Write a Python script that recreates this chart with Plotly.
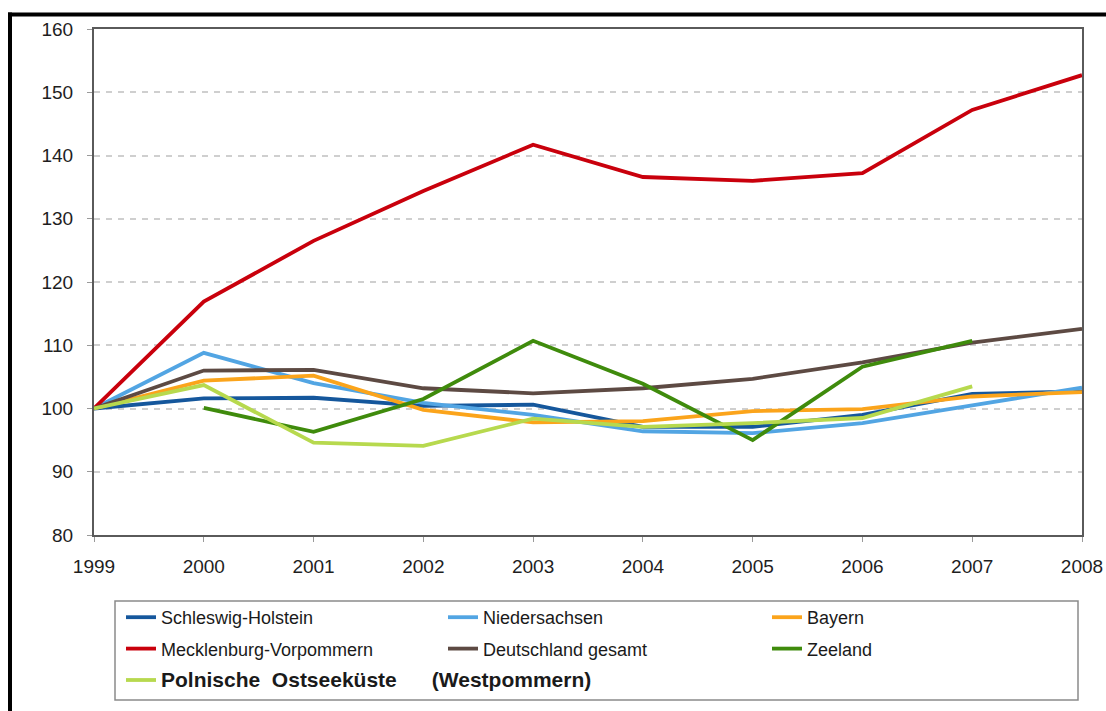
import plotly.graph_objects as go

years = [1999, 2000, 2001, 2002, 2003, 2004, 2005, 2006, 2007, 2008]
schleswig_holstein = [100, 101.6, 101.7, 100.4, 100.6, 97.1, 97.1, 99.0, 102.3, 102.7]
niedersachsen = [100, 108.8, 104.0, 100.9, 99.0, 96.4, 96.1, 97.7, 100.5, 103.3]
bayern = [100, 104.4, 105.2, 99.8, 97.8, 98.0, 99.6, 99.9, 101.9, 102.6]
mecklenburg_vorpommern = [100, 116.9, 126.5, 134.4, 141.7, 136.6, 136.0, 137.2, 147.2, 152.7]
deutschland_gesamt = [100, 106.0, 106.1, 103.2, 102.4, 103.2, 104.7, 107.3, 110.4, 112.6]
zeeland = [None, 100.1, 96.3, 101.5, 110.7, 103.9, 95.0, 106.6, 110.7, None]
polnische_ostseekueste = [100, 103.7, 94.6, 94.1, 98.4, 97.1, 97.7, 98.5, 103.5, None]

y_ticks = [80, 90, 100, 110, 120, 130, 140, 150, 160]

pol_label = ("<span style='font-size:21px'><b>Polnische\u00a0\u00a0Ostseeküste"
             "\u00a0\u00a0\u00a0\u00a0\u00a0\u00a0(Westpommern)</b></span>")

series = [
    ("Schleswig-Holstein", schleswig_holstein, "#15579c", "legend"),
    ("Niedersachsen", niedersachsen, "#52a5e3", "legend2"),
    ("Bayern", bayern, "#fba41b", "legend3"),
    ("Mecklenburg-Vorpommern", mecklenburg_vorpommern, "#c9000c", "legend"),
    ("Deutschland gesamt", deutschland_gesamt, "#5d4a43", "legend2"),
    ("Zeeland", zeeland, "#3f8b0c", "legend3"),
    (pol_label, polnische_ostseekueste, "#b7d94e", "legend"),
]

fig = go.Figure()
for i, (name, vals, color, leg) in enumerate(series):
    fig.add_trace(go.Scatter(
        x=years, y=vals, name=name, mode="lines",
        line=dict(color=color, width=3.8),
        legend=leg, legendgroup="g%d" % i,
        connectgaps=False,
    ))

L, R, T, B = 94, 1082, 29, 535
W, H = 1106, 711


def px(x):
    return (x - L) / (R - L)


def py(y):
    return (B - y) / (B - T)


font_family = "Liberation Sans, Arial, sans-serif"
leg_common = dict(
    font=dict(family=font_family, size=18, color="#1a1a1a"),
    bgcolor="rgba(0,0,0,0)", borderwidth=0,
    xanchor="left", yanchor="top",
    traceorder="grouped", tracegroupgap=5,
    orientation="v", itemwidth=30,
)

fig.update_layout(
    width=W, height=H,
    margin=dict(l=L, r=W - R, t=T, b=H - B, pad=0, autoexpand=False),
    paper_bgcolor="white", plot_bgcolor="white",
    font=dict(family=font_family, size=18, color="#222222"),
    showlegend=True,
    legend=dict(x=px(121), y=py(599), **leg_common),
    legend2=dict(x=px(443), y=py(599), **leg_common),
    legend3=dict(x=px(767), y=py(599), **leg_common),
    xaxis=dict(
        range=[1999, 2008], tickmode="array", tickvals=years,
        ticktext=[str(y) for y in years],
        showgrid=False, zeroline=False,
        showline=True, linecolor="#5a5a5a", linewidth=2, mirror=True,
        ticks="outside", ticklen=5, tickcolor="#9a9a9a", tickwidth=1,
        tickfont=dict(family=font_family, size=19, color="#1e1e1e"),
        ticklabelstandoff=8,
    ),
    yaxis=dict(
        range=[80, 160], tickmode="array", tickvals=y_ticks,
        showgrid=True, gridcolor="#cfcfcf", gridwidth=1.5, griddash="6px,6px",
        zeroline=False,
        showline=True, linecolor="#5a5a5a", linewidth=2, mirror=True,
        ticks="outside", ticklen=5, tickcolor="#9a9a9a", tickwidth=1,
        tickfont=dict(family=font_family, size=19, color="#1e1e1e"),
        ticklabelstandoff=10,
    ),
    shapes=[
        dict(type="rect", xref="paper", yref="paper",
             x0=px(8), x1=px(1106), y0=py(16.5), y1=py(12.5),
             fillcolor="black", line=dict(width=0), layer="above"),
        dict(type="rect", xref="paper", yref="paper",
             x0=px(8), x1=px(12), y0=py(711), y1=py(12.5),
             fillcolor="black", line=dict(width=0), layer="above"),
        dict(type="rect", xref="paper", yref="paper",
             x0=px(115), x1=px(1078), y0=py(700), y1=py(601),
             fillcolor="rgba(0,0,0,0)", line=dict(color="#8a8a8a", width=1.5)),
    ],
)

fig.write_html("out.html")
